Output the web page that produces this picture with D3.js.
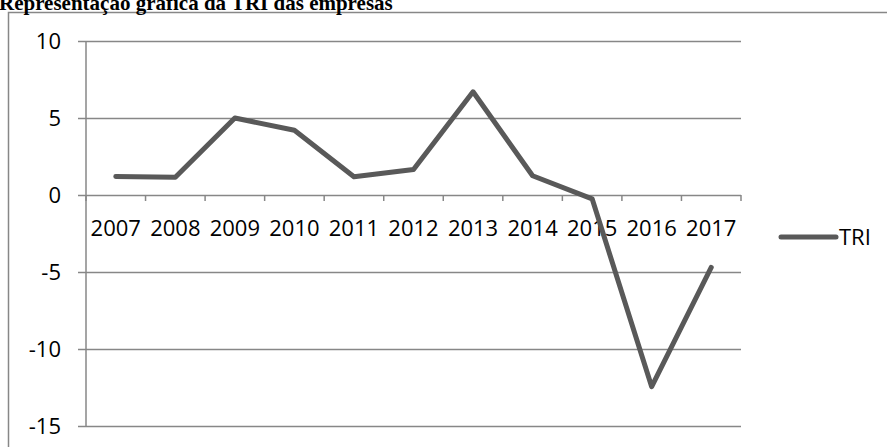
<!DOCTYPE html>
<html>
<head>
<meta charset="utf-8">
<script src="https://cdn.jsdelivr.net/npm/d3@7"></script>
<style>
  html, body { margin: 0; padding: 0; background: #fff; }
  svg { display: block; }
</style>
</head>
<body>
<script>
// TRI per year
const years = ["2007", "2008", "2009", "2010", "2011", "2012", "2013", "2014", "2015", "2016", "2017"];
const tri = [1.2, 1.15, 5.0, 4.2, 1.18, 1.65, 6.7, 1.25, -0.25, -12.45, -4.7];
const yTicks = [10, 5, 0, -5, -10, -15];
const seriesName = "TRI";
const title = "Representação gráfica da TRI das empresas";

const W = 887, H = 447;
const svg = d3.select("body").append("svg").attr("width", W).attr("height", H);

const labelFont = "'Open Sans', 'Liberation Sans', sans-serif";
const labelSize = 22;
const gridColor = "#878787";
const lineColor = "#595959";

// chart frame
svg.append("rect")
  .attr("x", 8.5).attr("y", 12.5)
  .attr("width", 900).attr("height", 460)
  .attr("fill", "none").attr("stroke", gridColor).attr("stroke-width", 1.5);

// title
svg.append("text")
  .attr("x", -1).attr("y", 10)
  .attr("font-family", "'Liberation Serif', 'Times New Roman', serif")
  .attr("font-weight", "bold")
  .attr("font-size", 21)
  .attr("fill", "#000")
  .text(title);

const x = d3.scaleBand().domain(years).range([86, 741]).padding(0);
const y = d3.scaleLinear().domain([-15, 10]).range([426, 41]);

// horizontal gridlines with left tick stubs
const yAxis = d3.axisLeft(y).tickValues(yTicks).tickSize(-(741 - 78)).tickFormat(d => String(d)).tickPadding(17);
const gy = svg.append("g").attr("transform", "translate(78,0)").call(yAxis);
gy.select(".domain").remove();
gy.selectAll(".tick line").attr("stroke", gridColor).attr("stroke-width", 1.5).attr("x1", 0).attr("x2", 741 - 78);
gy.selectAll(".tick text")
  .attr("font-family", labelFont).attr("font-size", labelSize).attr("fill", "#000")
  .attr("x", -17);

// vertical axis line
svg.append("line")
  .attr("x1", x.range()[0]).attr("x2", x.range()[0])
  .attr("y1", y(10)).attr("y2", y(-15))
  .attr("stroke", gridColor).attr("stroke-width", 1.5);

// category axis on the zero line, ticks between categories
const gx = svg.append("g").attr("transform", `translate(0,${y(0)})`);
const bounds = years.map(d => x(d)).concat([x.range()[1]]);
gx.selectAll("line.tk").data(bounds).join("line")
  .attr("class", "tk")
  .attr("x1", d => d).attr("x2", d => d)
  .attr("y1", 0).attr("y2", 6)
  .attr("stroke", gridColor).attr("stroke-width", 1.5);
gx.selectAll("text").data(years).join("text")
  .attr("x", d => x(d) + x.bandwidth() / 2)
  .attr("y", 41)
  .attr("text-anchor", "middle")
  .attr("font-family", labelFont).attr("font-size", labelSize).attr("fill", "#000")
  .text(d => d);

// series line
const line = d3.line()
  .x((d, i) => x(years[i]) + x.bandwidth() / 2)
  .y(d => y(d));
svg.append("path")
  .datum(tri)
  .attr("d", line)
  .attr("fill", "none")
  .attr("stroke", lineColor)
  .attr("stroke-width", 5)
  .attr("stroke-linejoin", "round")
  .attr("stroke-linecap", "round");

// legend
const lg = svg.append("g").attr("transform", "translate(781,237)");
lg.append("line").attr("x1", 0).attr("x2", 55).attr("y1", 0).attr("y2", 0)
  .attr("stroke", lineColor).attr("stroke-width", 5).attr("stroke-linecap", "round");
lg.append("text").attr("x", 58).attr("y", 0).attr("dy", "0.35em")
  .attr("font-family", labelFont).attr("font-size", labelSize).attr("fill", "#000")
  .text(seriesName);
</script>
</body>
</html>
